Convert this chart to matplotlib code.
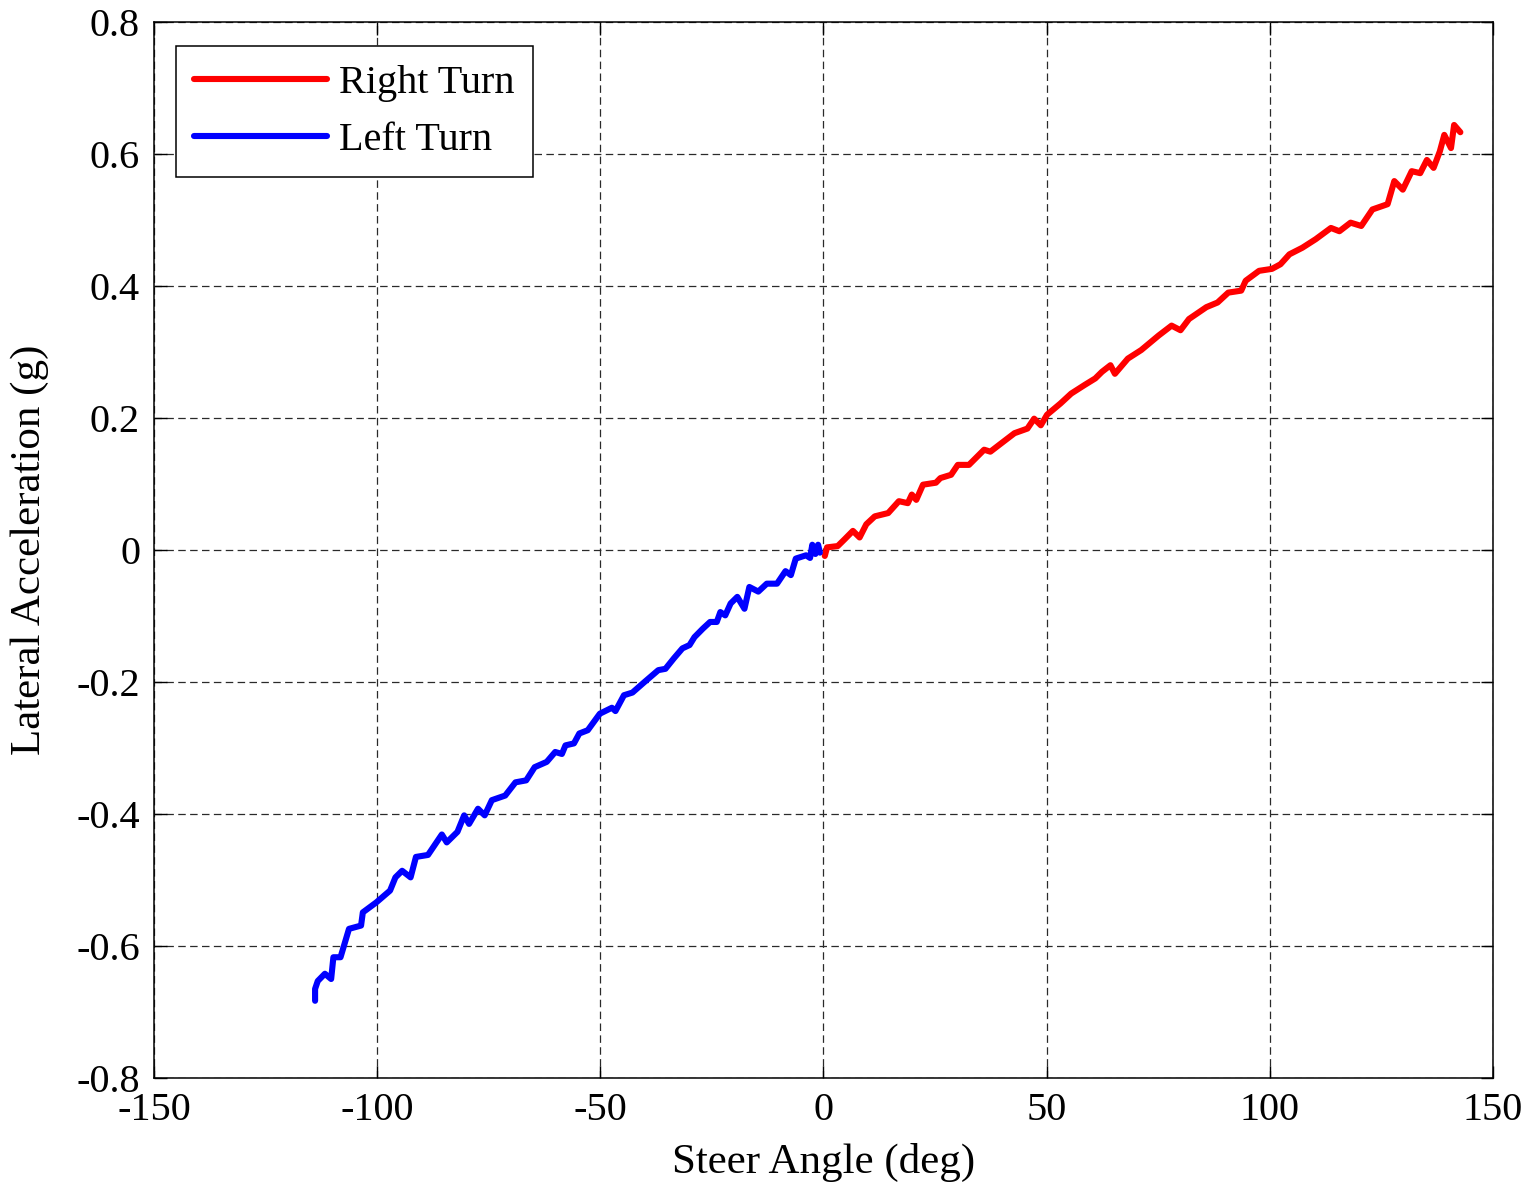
import matplotlib
matplotlib.use("Agg")
import matplotlib.pyplot as plt

plt.rcParams['font.family'] = ['Liberation Serif', 'DejaVu Serif']
plt.rcParams['axes.unicode_minus'] = False

# Left turn (blue) data: steer angle (deg), lateral acceleration (g)
left_angle = [-113.9, -113.9, -113.3, -111.7, -110.3, -109.8, -108.2, -106.3, -103.6, -103.2,
              -100.2, -97.1, -95.9, -94.4, -92.5, -91.3, -88.6, -85.5, -84.4, -82.0,
              -80.5, -79.4, -77.4, -75.9, -74.3, -71.3, -69.0, -66.6, -64.7, -62.0,
              -60.1, -58.6, -57.8, -55.9, -54.7, -52.8, -50.1, -47.4, -46.6, -44.7,
              -42.8, -40.1, -37.0, -35.4, -33.5, -31.6, -30.0, -28.9, -27.0, -25.4,
              -23.9, -23.1, -22.0, -20.8, -19.3, -17.7, -16.6, -14.6, -12.7, -10.4,
              -8.5, -7.3, -6.2, -3.9, -3.0, -2.5, -1.8, -1.2, -0.8]
left_acc = [-0.683, -0.665, -0.653, -0.642, -0.650, -0.617, -0.617, -0.574, -0.569, -0.549,
            -0.534, -0.516, -0.496, -0.486, -0.496, -0.465, -0.462, -0.431, -0.443, -0.427,
            -0.402, -0.415, -0.392, -0.402, -0.379, -0.372, -0.352, -0.349, -0.329, -0.321,
            -0.306, -0.309, -0.296, -0.293, -0.278, -0.273, -0.248, -0.239, -0.244, -0.220,
            -0.216, -0.200, -0.182, -0.180, -0.164, -0.149, -0.144, -0.132, -0.119, -0.109,
            -0.109, -0.094, -0.099, -0.081, -0.071, -0.089, -0.056, -0.063, -0.051, -0.051,
            -0.032, -0.038, -0.013, -0.008, -0.012, 0.008, -0.006, 0.008, -0.004]

# Right turn (red) data
right_angle = [0.3, 0.8, 3.2, 4.7, 6.6, 8.1, 9.6, 11.5, 14.5, 16.9,
               18.9, 19.8, 20.8, 22.3, 25.2, 26.2, 28.6, 30.1, 32.6, 36.0,
               37.4, 39.9, 42.8, 45.7, 47.2, 48.7, 50.1, 53.1, 55.5, 58.5,
               60.9, 62.4, 64.3, 65.3, 68.2, 71.2, 75.1, 78.0, 80.0, 81.9,
               85.8, 88.3, 90.7, 93.6, 94.6, 97.6, 100.5, 102.4, 104.4, 107.3,
               110.3, 113.7, 115.6, 118.1, 120.5, 123.0, 126.4, 127.9, 129.8, 131.8,
               133.7, 135.2, 136.7, 138.1, 139.1, 140.6, 141.3, 142.7]
right_acc = [-0.009, 0.004, 0.006, 0.016, 0.029, 0.019, 0.039, 0.051, 0.056, 0.074,
             0.071, 0.084, 0.076, 0.099, 0.102, 0.109, 0.114, 0.129, 0.129, 0.152,
             0.149, 0.162, 0.177, 0.184, 0.199, 0.189, 0.205, 0.222, 0.237, 0.250,
             0.260, 0.270, 0.280, 0.267, 0.290, 0.303, 0.325, 0.340, 0.333, 0.350,
             0.368, 0.375, 0.390, 0.393, 0.408, 0.423, 0.426, 0.433, 0.448, 0.458,
             0.471, 0.488, 0.483, 0.496, 0.491, 0.516, 0.524, 0.559, 0.546, 0.574,
             0.571, 0.591, 0.579, 0.604, 0.629, 0.609, 0.644, 0.633]

x_ticks = [-150, -100, -50, 0, 50, 100, 150]
x_tick_labels = ['-150', '-100', '-50', '0', '50', '100', '150']
y_ticks = [-0.8, -0.6, -0.4, -0.2, 0, 0.2, 0.4, 0.6, 0.8]
y_tick_labels = ['-0.8', '-0.6', '-0.4', '-0.2', '0', '0.2', '0.4', '0.6', '0.8']

fig = plt.figure(figsize=(15.35, 11.9), dpi=100)
ax = fig.add_axes([0.1003, 0.0941, 0.8723, 0.8874])

ax.plot(right_angle, right_acc, color='#ff0000', lw=4.4, label='Right Turn',
        solid_joinstyle='round', solid_capstyle='round', zorder=3)
ax.plot(left_angle, left_acc, color='#0000ff', lw=4.4, label='Left Turn',
        solid_joinstyle='round', solid_capstyle='round', zorder=3)

ax.set_xlim(-150, 150)
ax.set_ylim(-0.8, 0.8)
ax.set_xticks(x_ticks)
ax.set_xticklabels(x_tick_labels)
ax.set_yticks(y_ticks)
ax.set_yticklabels(y_tick_labels)

ax.tick_params(direction='in', length=9, width=1.0, labelsize=29, top=True, right=True,
               pad=10, colors='black')
ax.grid(True, color='#2a2a2a', linestyle=(0, (6, 3.5)), linewidth=0.9)
for s in ax.spines.values():
    s.set_linewidth(1.1)
    s.set_color('black')

ax.set_xlabel('Steer Angle (deg)', fontsize=31, labelpad=10)
ax.set_ylabel('Lateral Acceleration (g)', fontsize=31, labelpad=20)

leg = ax.legend(loc='upper left', bbox_to_anchor=(0.0165, 0.977), fontsize=29,
                frameon=True, fancybox=False, edgecolor='black', framealpha=1,
                handlelength=3.3, handletextpad=0.3, labelspacing=0.5,
                borderpad=0.45, borderaxespad=0)
leg.get_frame().set_linewidth(1.1)

fig.savefig('out.png', dpi=100)
